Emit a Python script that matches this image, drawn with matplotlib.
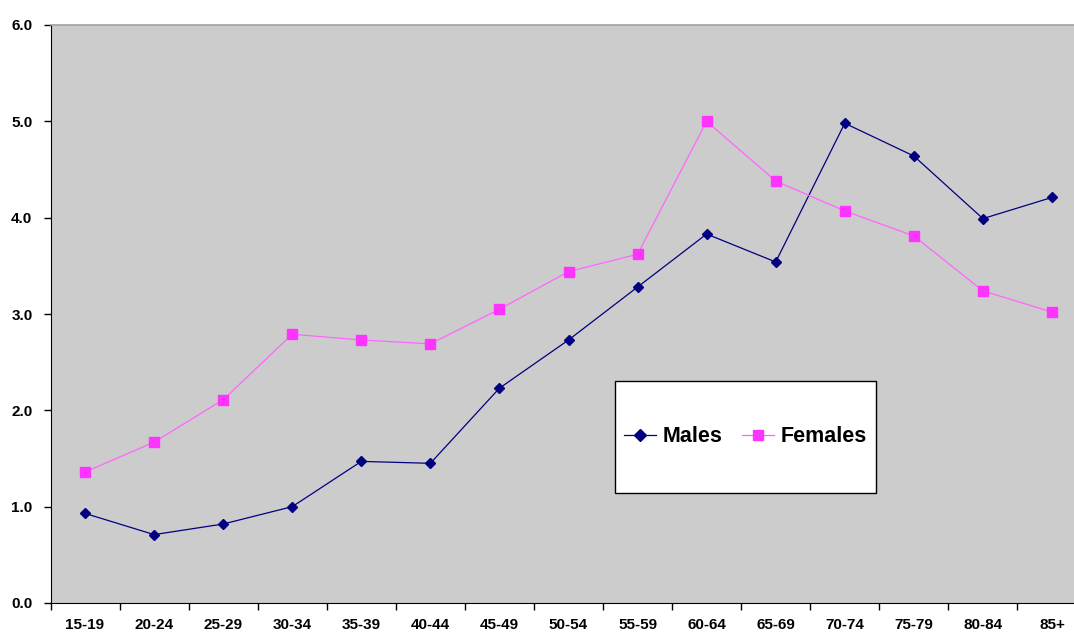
import matplotlib
matplotlib.use("Agg")
import matplotlib.pyplot as plt
from matplotlib.lines import Line2D
from matplotlib.patches import Rectangle

plt.rcParams['font.family'] = ['Liberation Sans', 'DejaVu Sans']

age_groups = ["15-19", "20-24", "25-29", "30-34", "35-39", "40-44", "45-49",
              "50-54", "55-59", "60-64", "65-69", "70-74", "75-79", "80-84", "85+"]
males = [0.93, 0.71, 0.82, 1.00, 1.47, 1.45, 2.23, 2.73, 3.28, 3.83, 3.54,
         4.98, 4.64, 3.99, 4.21]
females = [1.36, 1.67, 2.11, 2.79, 2.73, 2.69, 3.05, 3.44, 3.62, 5.00, 4.38,
           4.07, 3.81, 3.24, 3.02]
y_ticks = [0.0, 1.0, 2.0, 3.0, 4.0, 5.0, 6.0]

W, H = 1074, 634
fig = plt.figure(figsize=(W / 100, H / 100), dpi=100)
left, right, top, bottom = 50.5, 1086.5, 25, 603
ax = fig.add_axes([left / W, 1 - bottom / H, (right - left) / W, (bottom - top) / H])
ax.set_facecolor("#cccccc")

x = list(range(len(age_groups)))
ax.plot(x, males, color="#000080", lw=0.9, marker="D", ms=5.5,
        markerfacecolor="#000080", markeredgecolor="#000080", label="Males", zorder=3)
ax.plot(x, females, color="#ff66ff", lw=0.9, marker="s", ms=6.5,
        markerfacecolor="#ff33ff", markeredgecolor="#ff33ff", label="Females", zorder=3)

ax.set_xlim(-0.5, len(age_groups) - 0.5)
ax.set_ylim(0, 6)

ax.set_yticks(y_ticks)
ax.set_yticklabels([f"{v:.1f}" for v in y_ticks], fontsize=11, fontweight="bold")
ax.set_xticks(x)
ax.set_xticklabels(age_groups, fontsize=11, fontweight="bold")
ax.tick_params(axis="x", length=0, pad=11)
ax.set_xticks([i - 0.5 for i in range(len(age_groups) + 1)], minor=True)
ax.tick_params(axis="x", which="minor", length=5, width=1, color="black", direction="out")
ax.tick_params(axis="y", length=5, width=1, color="black", direction="out", pad=8)

ax.spines["right"].set_visible(False)
ax.spines["top"].set_color("#a0a0a0")
ax.spines["top"].set_linewidth(1.2)
ax.spines["left"].set_color("black")
ax.spines["bottom"].set_color("black")

# legend box
bx0, bx1, by0, by1 = 615, 876, 381, 493
fig.add_artist(Rectangle((bx0 / W, 1 - by1 / H), (bx1 - bx0) / W, (by1 - by0) / H,
                         transform=fig.transFigure, facecolor="white",
                         edgecolor="black", lw=1.0, zorder=4))

handles = [
    Line2D([], [], color="#000080", lw=0.9, marker="D", ms=6),
    Line2D([], [], color="#ff66ff", lw=0.9, marker="s", ms=7,
           markerfacecolor="#ff33ff", markeredgecolor="#ff33ff"),
]
leg = fig.legend(handles, ["Males", "Females"], loc="center",
                 bbox_to_anchor=((bx0 + bx1) / 2 / W, 1 - (by0 + by1) / 2 / H),
                 bbox_transform=fig.transFigure,
                 ncol=2, prop={"weight": "bold", "size": 15.5},
                 frameon=False, handlelength=1.5, handletextpad=0.3,
                 columnspacing=0.9, borderpad=0)
leg.set_zorder(5)

fig.savefig("out.png", dpi=100, facecolor="white")
